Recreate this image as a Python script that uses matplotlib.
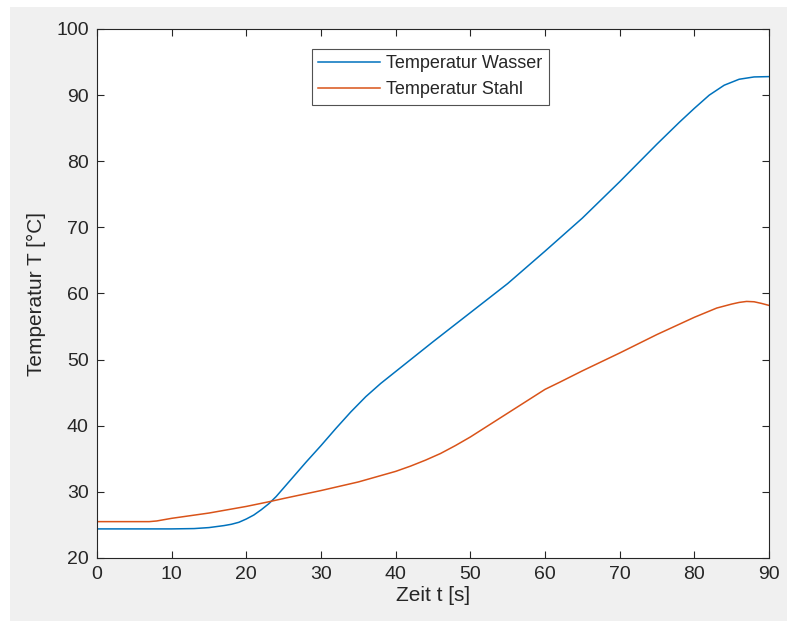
import matplotlib
matplotlib.use("Agg")
import matplotlib.pyplot as plt
from matplotlib.patches import Rectangle

# Zeit [s]
t_wasser = [0, 5, 10, 13, 15, 17, 18, 19, 20, 21, 22, 23, 24, 26, 28, 30, 32,
            34, 36, 38, 40, 42, 45, 50, 55, 60, 65, 70, 75, 78, 80, 82, 84,
            86, 88, 90]
T_wasser = [24.4, 24.4, 24.4, 24.45, 24.6, 24.9, 25.1, 25.4, 25.9, 26.5,
            27.3, 28.2, 29.3, 31.9, 34.5, 37.0, 39.6, 42.1, 44.4, 46.4, 48.2,
            50.0, 52.7, 57.1, 61.5, 66.4, 71.4, 76.9, 82.6, 85.9, 88.0, 90.0,
            91.5, 92.4, 92.75, 92.8]

t_stahl = [0, 5, 7, 8, 10, 15, 20, 23, 25, 30, 35, 40, 42, 44, 46, 48, 50,
           55, 60, 62, 65, 70, 75, 80, 83, 85, 86, 87, 88, 89, 90]
T_stahl = [25.5, 25.5, 25.5, 25.6, 26.0, 26.8, 27.8, 28.5, 29.0, 30.2, 31.5,
           33.1, 33.9, 34.8, 35.8, 37.0, 38.3, 41.9, 45.5, 46.6, 48.3, 51.0,
           53.8, 56.4, 57.8, 58.4, 58.65, 58.8, 58.75, 58.5, 58.2]

labels = ["Temperatur Wasser", "Temperatur Stahl"]
col_wasser = "#0072BD"
col_stahl = "#D95319"
txt = "#262626"

plt.rcParams['font.family'] = ['Liberation Sans', 'DejaVu Sans']

W, H = 787, 621
fig = plt.figure(figsize=(W / 100, H / 100), dpi=100)
fig.patch.set_facecolor("white")
fig.patches.append(Rectangle((10 / W, 0), 1 - 10 / W, 1 - 7 / H,
                             transform=fig.transFigure, facecolor="#F0F0F0",
                             edgecolor="none", zorder=-10))

ax = fig.add_axes([97 / W, 1 - 558 / H, (769 - 97) / W, (558 - 29) / H])
ax.plot(t_wasser, T_wasser, color=col_wasser, lw=1.1, label=labels[0])
ax.plot(t_stahl, T_stahl, color=col_stahl, lw=1.1, label=labels[1])

ax.set_xlim(0, 90)
ax.set_ylim(20, 100)
ax.set_xticks(range(0, 91, 10))
ax.set_yticks(range(20, 101, 10))
ax.tick_params(direction="in", length=5, width=0.8, top=True, right=True,
               labelsize=14, colors=txt, pad=6)
for s in ax.spines.values():
    s.set_color(txt)
    s.set_linewidth(0.8)

ax.set_xlabel("Zeit t [s]", fontsize=15, color=txt, labelpad=2)
ax.set_ylabel("Temperatur T [°C]", fontsize=15, color=txt, labelpad=7)

leg = ax.legend(loc="upper left", bbox_to_anchor=(0.32, 0.962), fontsize=13,
                frameon=True, fancybox=False, handlelength=3.4,
                handletextpad=0.35, borderpad=0.35, labelspacing=0.5,
                borderaxespad=0)
leg.get_frame().set_edgecolor(txt)
leg.get_frame().set_linewidth(0.8)
for tx in leg.get_texts():
    tx.set_color(txt)

fig.savefig("out.png", dpi=100)
